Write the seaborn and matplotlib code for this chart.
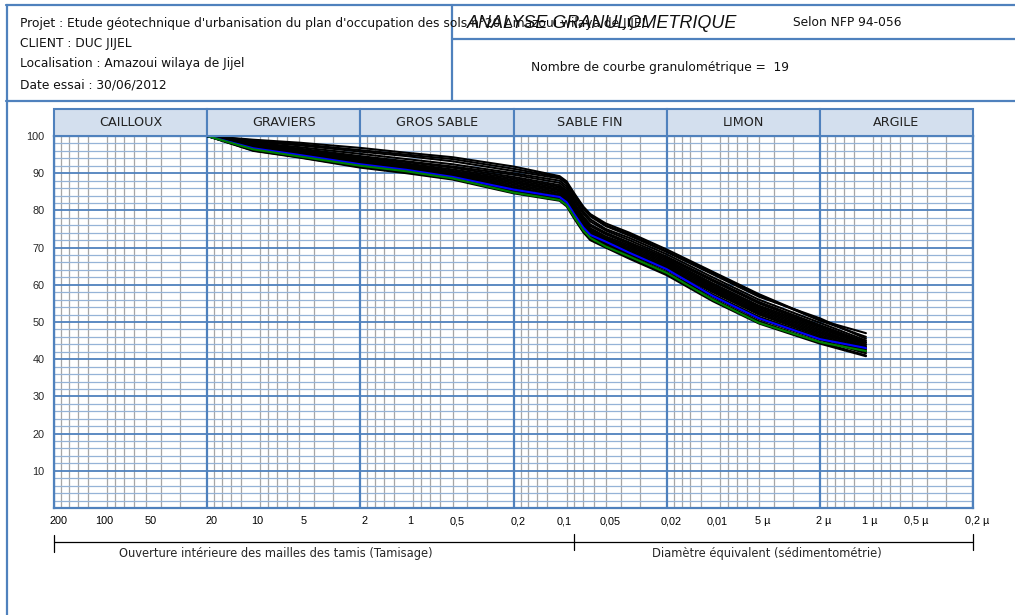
import numpy as np
import pandas as pd
import matplotlib
matplotlib.use("Agg")
import matplotlib.pyplot as plt
import matplotlib.transforms as mtransforms
from matplotlib.lines import Line2D
import seaborn as sns

# ---------------- data ----------------
sieve_mm = [20, 10, 5, 2, 1, 0.5, 0.2, 0.1, 0.09, 0.08, 0.07, 0.063, 0.05, 0.035,
            0.02, 0.01, 0.005, 0.002, 0.001]

c01 = [100, 99.0, 98.2, 96.8, 95.5, 94.3, 91.8, 89.2, 87.8, 84.5, 81.0, 79.0, 76.5, 74.0, 69.5, 63.5, 57.5, 50.5, 47.0]
c02 = [100, 98.5, 97.5, 95.8, 94.6, 93.2, 90.6, 88.6, 87.2, 83.9, 80.4, 78.4, 75.8, 73.2, 68.8, 62.8, 56.8, 51.0, 45.5]
c03 = [100, 98.2, 97.0, 95.2, 93.8, 92.4, 90.0, 88.0, 86.5, 83.2, 79.7, 77.6, 75.0, 72.6, 68.2, 62.0, 56.0, 49.8, 45.0]
c04 = [100, 98.0, 96.6, 94.6, 93.2, 91.8, 89.6, 87.4, 85.9, 82.6, 79.1, 77.0, 74.6, 72.0, 67.6, 61.4, 55.4, 49.2, 44.6]
c05 = [100, 97.8, 96.4, 94.3, 93.0, 91.5, 89.0, 86.8, 85.3, 81.9, 78.3, 76.2, 74.0, 71.4, 67.2, 61.0, 55.0, 48.8, 44.4]
c06 = [100, 97.6, 96.1, 94.0, 92.6, 91.0, 88.6, 86.4, 84.9, 81.5, 77.9, 75.8, 73.6, 71.0, 66.8, 60.4, 54.4, 48.6, 44.0]
c07 = [100, 97.4, 95.9, 93.7, 92.3, 90.6, 88.2, 86.0, 84.5, 81.0, 77.4, 75.2, 73.0, 70.6, 66.4, 60.0, 54.0, 48.2, 43.8]
c08 = [100, 97.2, 95.6, 93.4, 92.0, 90.4, 87.8, 85.6, 84.1, 80.6, 77.0, 74.8, 72.6, 70.2, 66.0, 59.6, 53.6, 47.8, 43.4]
c09 = [100, 97.0, 95.4, 93.2, 91.8, 90.1, 87.4, 85.4, 83.9, 80.3, 76.6, 74.4, 72.3, 69.8, 65.6, 59.2, 53.2, 47.4, 43.2]
c10 = [100, 96.9, 95.2, 93.0, 91.5, 89.8, 87.0, 85.0, 83.5, 79.9, 76.2, 74.0, 72.0, 69.4, 65.2, 58.8, 52.8, 47.0, 43.0]
c11 = [100, 96.8, 95.0, 92.7, 91.2, 89.5, 86.6, 84.6, 83.1, 79.5, 75.8, 73.6, 71.6, 69.0, 64.8, 58.4, 52.4, 46.6, 42.6]
c12 = [100, 96.6, 94.8, 92.4, 91.0, 89.2, 86.2, 84.2, 82.7, 79.1, 75.4, 73.2, 71.2, 68.6, 64.4, 58.0, 52.0, 46.2, 42.2]
c13 = [100, 96.5, 94.6, 92.2, 90.8, 89.0, 85.8, 83.8, 82.3, 78.7, 75.0, 72.8, 70.8, 68.2, 64.0, 57.4, 51.4, 45.8, 42.0]
c14 = [100, 96.3, 94.4, 92.0, 90.5, 88.7, 85.4, 83.4, 81.9, 78.3, 74.6, 72.4, 70.4, 67.8, 63.4, 56.8, 50.8, 45.2, 41.6]
c15 = [100, 96.1, 94.3, 91.7, 90.2, 88.5, 85.0, 83.0, 81.5, 78.0, 74.4, 72.2, 70.2, 67.4, 63.0, 56.2, 50.2, 44.6, 41.0]
c16 = [100, 96.0, 94.2, 91.5, 90.0, 88.3, 84.6, 82.6, 81.1, 77.7, 74.1, 72.0, 70.0, 67.0, 62.6, 55.6, 49.6, 44.2, 40.8]
c17 = [100, 98.8, 97.8, 96.2, 95.0, 93.8, 91.2, 88.9, 87.5, 84.2, 80.8, 78.8, 76.0, 73.6, 69.0, 63.2, 57.2, 50.4, 46.0]
blue_curve = [100, 96.7, 94.9, 92.4, 90.9, 89.0, 85.6, 83.6, 82.2, 78.9, 75.4, 73.4, 71.6, 68.6, 64.2, 57.0, 51.0, 45.4, 43.0]
green_curve = [100, 96.4, 94.5, 92.0, 90.5, 88.6, 84.8, 82.8, 81.4, 78.1, 74.6, 72.6, 70.3, 67.6, 63.2, 56.0, 49.8, 44.6, 42.2]

curve_names = ["c01", "c02", "c03", "c04", "c05", "c06", "c07", "c08", "c09", "c10",
               "c11", "c12", "c13", "c14", "c15", "c16", "c17", "blue", "green"]
curve_values = [c01, c02, c03, c04, c05, c06, c07, c08, c09, c10,
                c11, c12, c13, c14, c15, c16, c17, blue_curve, green_curve]
curve_colors = ["black"] * 17 + ["#0000ff", "#008000"]

class_names = ["CAILLOUX", "GRAVIERS", "GROS SABLE", "SABLE FIN", "LIMON", "ARGILE"]
class_bounds = [200, 20, 2, 0.2, 0.02, 0.002, 0.0002]

xtick_values = [200, 100, 50, 20, 10, 5, 2, 1, 0.5, 0.2, 0.1, 0.05, 0.02, 0.01,
                0.005, 0.002, 0.001, 0.0005, 0.0002]
xtick_labels = ["200", "100", "50", "20", "10", "5", "2", "1", "0,5", "0,2", "0,1",
                "0,05", "0,02", "0,01", "5 µ", "2 µ", "1 µ", "0,5 µ", "0,2 µ"]
ytick_values = [10, 20, 30, 40, 50, 60, 70, 80, 90, 100]

sieve_limit = 0.08  # separation tamisage / sedimentometrie

rows = []
for name, vals in zip(curve_names, curve_values):
    for s, p in zip(sieve_mm, vals):
        rows.append({"size": s, "passing": p, "curve": name})
df = pd.DataFrame(rows)

# ---------------- figure ----------------
sns.set_theme(style="white")
plt.rcParams["font.family"] = ["DejaVu Sans"]

W, H = 1015, 615
fig = plt.figure(figsize=(W / 100, H / 100), dpi=100)
fig.patch.set_facecolor("white")

def fx(px):
    return px / W

def fy(py):
    return 1 - py / H

BLUE = "#4f81bd"
LIGHTBLUE = "#95b3d7"
GRAY = "#a6a6a6"
FILL = "#d3dfee"

ax = fig.add_axes([fx(54), fy(508), fx(973) - fx(54), fy(136) - fy(508)])
ax.set_xscale("log")
ax.set_xlim(200, 0.0002)
ax.set_ylim(0, 100)

# grid
for k in range(-4, 3):
    for m in [1.2, 1.4, 1.6, 1.8, 2, 3, 4, 5, 6, 7, 8, 9]:
        v = m * 10 ** k
        if 0.0002 < v < 200 and not any(abs(v - b) / b < 1e-6 for b in class_bounds):
            ax.axvline(v, color=GRAY, lw=0.9, zorder=1)
for b in class_bounds:
    ax.axvline(b, color=BLUE, lw=1.6, zorder=2)
for v in range(2, 100, 2):
    if v % 10 == 0:
        ax.axhline(v, color=BLUE, lw=1.3, zorder=2)
    else:
        ax.axhline(v, color=LIGHTBLUE, lw=0.9, zorder=1.5)

palette = dict(zip(curve_names, curve_colors))
sns.lineplot(data=df, x="size", y="passing", hue="curve", hue_order=curve_names,
             palette=palette, estimator=None, sort=False, legend=False,
             lw=1.5, ax=ax, zorder=5)

for sp in ax.spines.values():
    sp.set_color(BLUE)
    sp.set_linewidth(1.6)
    sp.set_visible(True)

ax.set_xlabel("")
ax.set_ylabel("")
ax.set_xticks([])
ax.set_xticks([], minor=True)
ax.set_yticks(ytick_values)
ax.set_yticklabels([str(v) for v in ytick_values], fontfamily="Liberation Sans", fontsize=7.8)
ax.tick_params(axis="y", length=0, pad=7)

# x tick labels (text under the axis)
trans_lab = mtransforms.blended_transform_factory(ax.transData, fig.transFigure)
off = mtransforms.ScaledTranslation(3 / 72, 0, fig.dpi_scale_trans)
for v, lab in zip(xtick_values, xtick_labels):
    ax.text(v, fy(521.5), lab, transform=trans_lab + off, ha="center", va="center",
            fontsize=7.8, fontfamily="Liberation Sans", color="black", clip_on=False)

# bracket
ax.plot([200, 0.0002], [fy(542), fy(542)], transform=trans_lab, color="black", lw=0.9, clip_on=False)
ax.plot([200, 200], [fy(535), fy(552)], transform=trans_lab, color="black", lw=0.9, clip_on=False)
ax.plot([sieve_limit, sieve_limit], [fy(534), fy(550)], transform=trans_lab, color="black", lw=0.9, clip_on=False)
ax.plot([0.0002, 0.0002], [fy(534), fy(550)], transform=trans_lab, color="black", lw=0.9, clip_on=False)
fig.text(fx(276), fy(553), "Ouverture intérieure des mailles des tamis (Tamisage)",
         ha="center", va="center", fontsize=8.3)
fig.text(fx(767), fy(553), "Diamètre équivalent (sédimentométrie)",
         ha="center", va="center", fontsize=8.3)

# class header band
axh = fig.add_axes([fx(54), fy(136), fx(973) - fx(54), fy(109.5) - fy(136)])
axh.set_xscale("log")
axh.set_xlim(200, 0.0002)
axh.set_ylim(0, 1)
axh.axis("off")
for name, lo, hi in zip(class_names, class_bounds[:-1], class_bounds[1:]):
    axh.axvspan(hi, lo, ymin=0, ymax=1, facecolor=FILL, edgecolor=BLUE, lw=1.5, clip_on=False)
    axh.text(np.sqrt(lo * hi), 0.5, name, ha="center", va="center", fontsize=9.2, color="#222222")

# frame lines
def fline(x0, y0, x1, y1, lw=1.6):
    fig.add_artist(Line2D([fx(x0), fx(x1)], [fy(y0), fy(y1)], transform=fig.transFigure,
                          color=BLUE, lw=lw))

fline(6.5, 5, 6.5, 615)
fline(5.5, 5, 1015, 5)
fline(452, 5, 452, 101)
fline(452, 38.5, 1015, 38.5)
fline(5.5, 101, 1015, 101)

# header texts
fig.text(fx(20), fy(23), "Projet : Etude géotechnique d'urbanisation du plan d'occupation des sols n°20 Amazoui wilaya de JIJEL",
         ha="left", va="center", fontsize=8.8, color="#111111")
fig.text(fx(20), fy(43), "CLIENT : DUC JIJEL", ha="left", va="center", fontsize=8.8, color="#111111")
fig.text(fx(20), fy(63), "Localisation : Amazoui wilaya de Jijel", ha="left", va="center", fontsize=8.8, color="#111111")
fig.text(fx(20), fy(85), "Date essai : 30/06/2012", ha="left", va="center", fontsize=8.8, color="#111111")
fig.text(fx(467), fy(23), "ANALYSE GRANULOMETRIQUE", ha="left", va="center", fontsize=13,
         fontstyle="italic", fontfamily="Liberation Sans", color="#111111")
fig.text(fx(793), fy(23), "Selon NFP 94-056", ha="left", va="center", fontsize=8.8, color="#111111")
fig.text(fx(531), fy(68), "Nombre de courbe granulométrique =  19", ha="left", va="center",
         fontsize=8.8, color="#111111")

fig.savefig("out.png", dpi=100, facecolor="white")
